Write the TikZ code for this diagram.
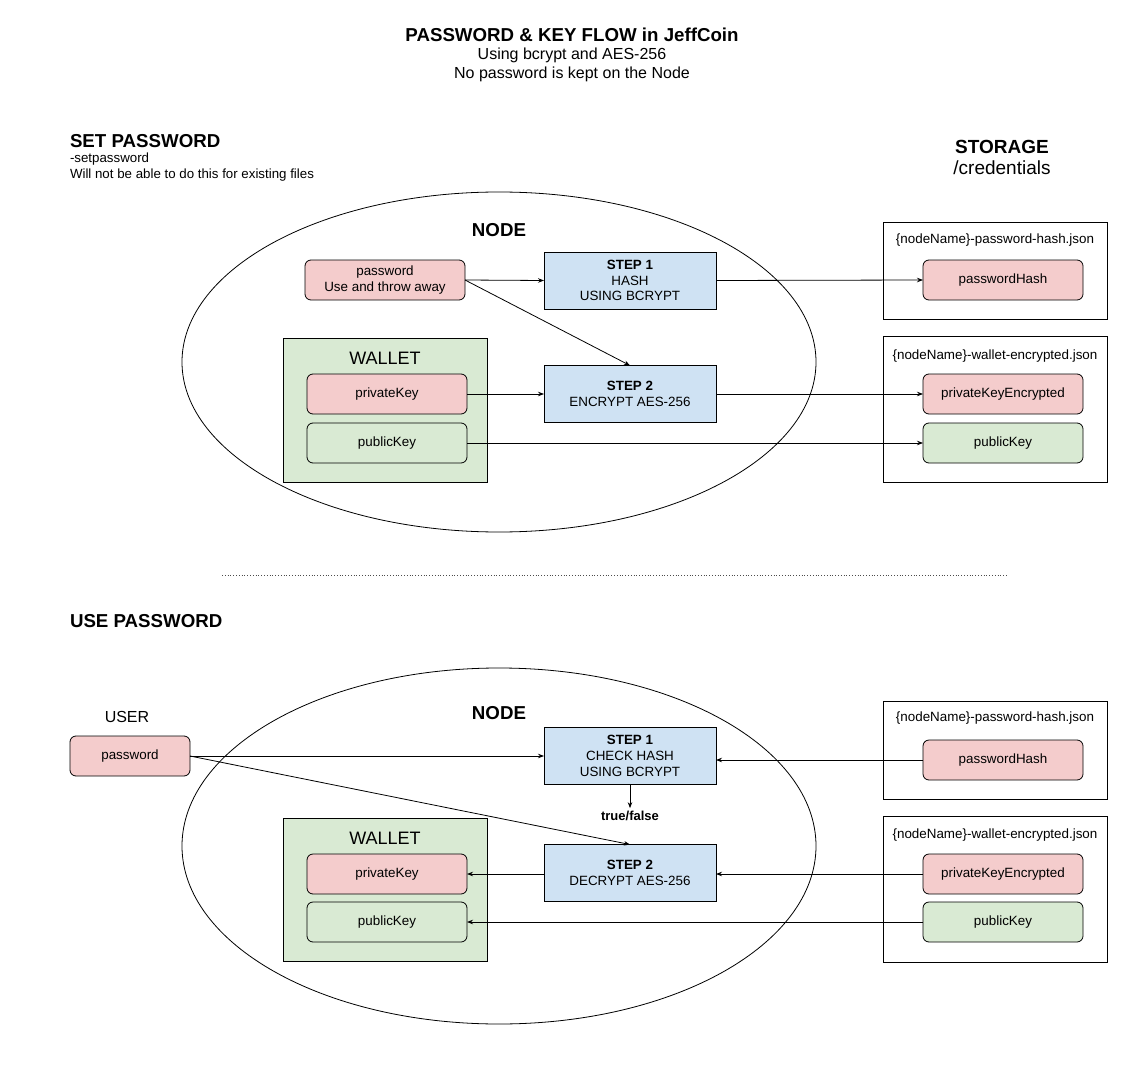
\documentclass[tikz,border=0pt]{standalone}
\usepackage{fontspec}
\setmainfont{Liberation Sans}
\usetikzlibrary{arrows.meta,shapes.geometric}
\definecolor{pinkf}{HTML}{F4CCCC}
\definecolor{bluef}{HTML}{CFE2F3}
\definecolor{greenf}{HTML}{D9EAD3}
\tikzset{
  every node/.style={inner sep=0pt, outer sep=0pt},
  kbox/.style={draw, rounded corners=6pt, minimum width=160pt, minimum height=40pt, align=center, font=\fontsize{13.4}{15.8}\selectfont, line width=0.8pt},
  pinkbox/.style={kbox, fill=pinkf},
  greenbox/.style={kbox, fill=greenf},
  stepbox/.style={draw, fill=bluef, minimum width=172pt, minimum height=57pt, align=center, font=\fontsize{13.4}{15.8}\selectfont, line width=0.8pt},
  filebox/.style={draw, minimum width=224pt, line width=0.8pt},
  walletbox/.style={draw, fill=greenf, minimum width=204pt, minimum height=144pt, line width=0.8pt},
  nodeell/.style={draw, ellipse, minimum width=634pt, line width=0.8pt},
  big/.style={font=\fontsize{18}{21}\selectfont},
  bigb/.style={font=\fontsize{18.7}{21}\selectfont\bfseries},
  ftitle/.style={font=\fontsize{13.4}{15}\selectfont},
  note/.style={font=\fontsize{13.3}{15}\selectfont, anchor=west},
  arr/.style={-{Stealth[length=6pt,width=4.5pt]}, line width=0.8pt},
}
\begin{document}
\begin{tikzpicture}[x=1pt,y=-1pt]
\useasboundingbox (0,0) rectangle (1146,1078);
% titles
\node[bigb] (title) at (572,35) {PASSWORD \& KEY FLOW in JeffCoin};
\node[font=\fontsize{16}{18}\selectfont] (sub1) at (572,55) {Using bcrypt and AES-256};
\node[font=\fontsize{16}{18}\selectfont] (sub2) at (572,74) {No password is kept on the Node};
\node[bigb, anchor=west] (setpw) at (70,141) {SET PASSWORD};
\node[note] (setpw1) at (70,159) {-setpassword};
\node[note] (setpw2) at (70,175) {Will not be able to do this for existing files};
\node[font=\fontsize{19}{21}\selectfont\bfseries] (storage) at (1002,147) {STORAGE};
\node[font=\fontsize{19}{21}\selectfont] (cred) at (1002,168) {/credentials};

% ---------- top section ----------
\node[nodeell, minimum height=340pt] (ellA) at (499,362) {};
\node[bigb] (nodeA) at (499,230) {NODE};
\node[pinkbox] (pwA) at (385,280) {password\\Use and throw away};
\node[stepbox] (s1A) at (630,280.5) {\textbf{STEP 1}\\HASH\\USING BCRYPT};
\node[stepbox] (s2A) at (630,394) {\textbf{STEP 2}\\ENCRYPT AES-256};
\node[walletbox] (walA) at (385,410) {};
\node[big] (walAt) at (385,358) {WALLET};
\node[pinkbox] (privA) at (387,394) {privateKey};
\node[greenbox] (pubA) at (387,443) {publicKey};

\node[filebox, minimum height=97pt] (f1A) at (995,270.5) {};
\node[ftitle] (f1At) at (995,240) {\{nodeName\}-password-hash.json};
\node[pinkbox] (hashA) at (1003,280) {passwordHash};
\node[filebox, minimum height=146pt] (f2A) at (995,409) {};
\node[ftitle] (f2At) at (995,356) {\{nodeName\}-wallet-encrypted.json};
\node[pinkbox] (encA) at (1003,394) {privateKeyEncrypted};
\node[greenbox] (pubSA) at (1003,443) {publicKey};

\draw[arr] (pwA.east) -- (s1A.west);
\draw[arr] (pwA.east) -- (s2A.north);
\draw[arr] (s1A.east) -- (hashA.west);
\draw[arr] (privA.east) -- (s2A.west);
\draw[arr] (s2A.east) -- (encA.west);
\draw[arr] (pubA.east) -- (pubSA.west);

% separator
\coordinate (sepL) at (222,575);
\coordinate (sepR) at (1008,575);
\draw[dotted, line width=0.8pt, black!70] (sepL) -- (sepR);

% ---------- bottom section ----------
\node[bigb, anchor=west] (usepw) at (70,621) {USE PASSWORD};
\node[nodeell, minimum height=356pt] (ellB) at (499,846) {};
\node[bigb] (nodeB) at (499,713) {NODE};
\node[font=\fontsize{16}{18}\selectfont] (user) at (127,717) {USER};
\node[pinkbox, minimum width=120pt] (pwB) at (130,756) {password};
\node[stepbox] (s1B) at (630,756) {\textbf{STEP 1}\\CHECK HASH\\USING BCRYPT};
\node[stepbox] (s2B) at (630,873) {\textbf{STEP 2}\\DECRYPT AES-256};
\node[font=\fontsize{13}{14}\selectfont\bfseries] (tf) at (630,816) {true/false};
\node[walletbox, minimum height=143pt] (walB) at (385,889.5) {};
\node[big] (walBt) at (385,838) {WALLET};
\node[pinkbox] (privB) at (387,874) {privateKey};
\node[greenbox] (pubB) at (387,922) {publicKey};

\node[filebox, minimum height=98pt] (f1B) at (995,750) {};
\node[ftitle] (f1Bt) at (995,718) {\{nodeName\}-password-hash.json};
\node[pinkbox] (hashB) at (1003,760) {passwordHash};
\node[filebox, minimum height=146pt] (f2B) at (995,889) {};
\node[ftitle] (f2Bt) at (995,835) {\{nodeName\}-wallet-encrypted.json};
\node[pinkbox] (encB) at (1003,874) {privateKeyEncrypted};
\node[greenbox] (pubSB) at (1003,922) {publicKey};

\draw[arr] (pwB.east) -- (s1B.west);
\draw[arr] (pwB.east) -- (s2B.north);
\draw[arr] (hashB.west) -- (s1B.east |- hashB.west);
\draw[arr, shorten >=3pt] (s1B.south) -- (tf.north);
\draw[arr] (encB.west) -- (s2B.east |- encB.west);
\draw[arr] (s2B.west |- privB.east) -- (privB.east);
\draw[arr] (pubSB.west) -- (pubB.east);
\end{tikzpicture}
\end{document}
